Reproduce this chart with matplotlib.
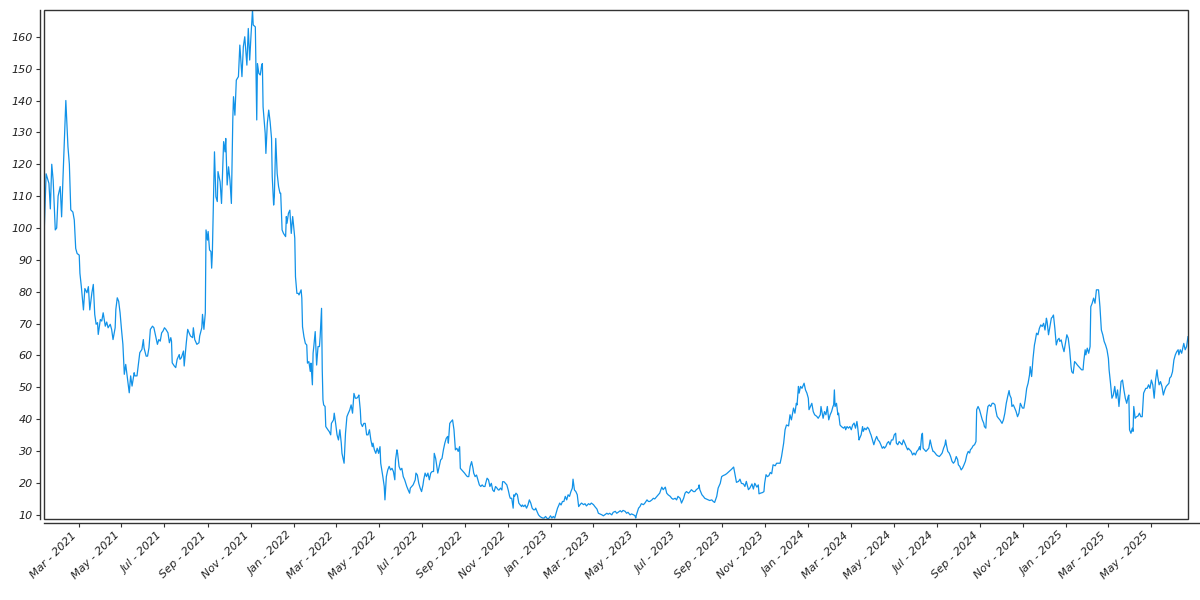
import matplotlib
matplotlib.use("Agg")
import matplotlib.pyplot as plt
import matplotlib.dates as mdates
from matplotlib.patches import Rectangle
from matplotlib.ticker import MultipleLocator
import pandas as pd

start_date = "2021-01-11"

day_offsets = [
    0, 3, 7, 9, 11, 13, 16, 18, 20, 23, 25, 27, 31, 34, 36, 38, 41, 43, 45, 47, 50, 51, 53,
    56, 58, 61, 63, 65, 68, 70, 72, 74, 76, 77, 80, 82, 84, 87, 89, 91, 94, 96, 98, 101, 102, 104, 106, 108,
    110, 112, 114, 116, 118, 121, 123, 125, 128, 129, 132, 134, 136, 139, 141, 142, 145, 147, 149, 151, 154,
    156, 159, 161, 163, 165, 167, 169, 171, 173, 176, 178, 180, 181, 182, 185, 187, 189, 192, 193, 195, 198,
    199, 202, 204, 206, 208, 211, 212, 214, 217, 220, 221, 224, 225, 227, 229,
    230, 232, 233, 235, 237, 238, 239, 242, 244, 246, 247, 250, 252, 255, 257, 258, 260, 262, 264, 266, 268,
    269, 271, 273, 276, 278, 281, 283, 285, 288, 290, 292, 294, 296, 297, 300, 302, 303, 305, 307, 309, 310,
    311, 314, 315, 317, 319, 321, 323, 324, 326, 327, 329, 331, 333, 335, 336, 338, 340, 343, 344, 345, 347,
    349, 351, 353, 354, 356, 357, 359, 361, 362,
    365, 366, 367, 369, 371, 373, 374, 376, 378, 379, 381, 382, 383, 385, 387, 389, 391, 392, 394, 395,
    396, 397, 399, 400, 403, 405, 407, 408, 411, 412, 414, 416, 418, 420, 422, 423, 426, 428, 430, 432,
    434, 436, 438, 440, 442, 444, 446, 447, 449, 450, 452, 454, 456, 458, 460, 462, 464, 466, 467, 469,
    471, 473, 475, 477, 478, 481, 483, 484, 486, 488, 490, 492, 494, 496, 498, 499, 501, 502, 504, 506,
    508, 510, 512, 515, 517, 519, 520, 522, 524, 527, 528, 530, 532, 534, 536, 538, 539, 541, 543, 545,
    547, 549, 551, 553, 554, 556, 557, 559, 561, 563, 565, 567, 569, 571, 573, 574, 576, 578, 580, 582,
    584, 586, 588, 590, 591, 593, 595, 597, 599, 601, 603, 605, 607, 609, 610, 612, 614, 616, 618, 620,
    622, 624, 626, 627, 629, 631, 633, 635, 637, 639, 641, 643, 645, 646, 648, 650, 651, 653, 655, 657,
    659, 661, 662, 664, 666, 667, 668, 670, 672, 674, 676, 678, 679, 681, 683, 685, 687, 689, 691, 693,
    695, 697, 698, 700, 702, 704, 706, 708, 710, 712, 714, 715, 717, 719, 721, 723, 725, 727, 729, 731,
    732, 734, 736, 738, 740, 742, 744, 746, 748, 750, 751, 753, 755, 757, 759,
    761, 763, 766, 768, 770, 773, 775, 777, 780, 782, 785, 787, 789, 792, 794, 796, 799, 801, 803, 806,
    808, 811, 813, 815, 818, 820, 822, 825, 827, 829, 832, 834, 837, 839, 840, 841, 844, 846, 848, 851,
    853, 856, 858, 860, 863, 865, 867, 870, 872, 874, 877, 879, 882, 884, 886, 889, 891, 893, 896, 898,
    900, 903, 905, 908, 910, 912, 915, 917, 919, 922, 924, 926, 929, 930, 931, 934, 936, 938, 941, 943,
    945, 948, 950, 952, 955, 957, 960, 962, 964, 967, 969, 971, 974, 976, 979, 981, 983, 986, 988, 990,
    993, 995, 997, 1000, 1002, 1005, 1007, 1009, 1012, 1014, 1015, 1017, 1020, 1022, 1023, 1025, 1027,
    1029, 1031, 1033, 1035, 1038, 1040, 1042, 1045, 1047, 1050, 1052, 1054, 1057, 1059, 1061, 1064, 1066,
    1068, 1069, 1071, 1072,
    1074, 1076, 1078, 1079, 1081, 1083, 1085, 1086, 1088, 1090, 1092, 1094, 1097, 1099, 1102, 1103, 1105,
    1106, 1108, 1110, 1112, 1114, 1116, 1118, 1120, 1121, 1122, 1123, 1125, 1127, 1128, 1130, 1132, 1135,
    1137, 1138, 1140, 1142, 1144, 1146, 1148, 1150, 1152, 1154, 1155, 1157, 1158, 1160, 1162, 1163, 1165,
    1167, 1169, 1171, 1173, 1174, 1176, 1178, 1180, 1182, 1184, 1186, 1188, 1190, 1192, 1193, 1195, 1197,
    1199, 1201, 1203, 1205, 1207, 1209, 1210, 1212, 1214, 1216, 1218, 1220, 1222, 1224, 1226, 1227, 1229,
    1231, 1233, 1235, 1237, 1239, 1241, 1243, 1244, 1246, 1247, 1248, 1250, 1252, 1254, 1256, 1258, 1260,
    1262, 1263, 1265, 1267, 1269, 1271, 1273, 1275, 1277, 1279, 1280, 1281, 1283, 1285, 1287, 1289, 1291,
    1293, 1295, 1297, 1298, 1300, 1302, 1304, 1306, 1308, 1310, 1312, 1314, 1315, 1317, 1319, 1321, 1323,
    1324, 1326, 1328, 1330, 1332, 1334, 1335, 1337, 1338, 1340, 1342, 1344, 1346, 1348, 1350, 1351, 1353,
    1355, 1357,
    1360, 1362, 1364, 1366, 1368, 1370, 1371, 1373, 1374, 1376, 1378, 1380, 1382, 1384, 1386, 1388, 1389,
    1391, 1393, 1395, 1397, 1399, 1400, 1402, 1404, 1406, 1407, 1409, 1411, 1413, 1415, 1417, 1419, 1421,
    1423, 1424, 1426, 1428, 1430, 1432, 1433, 1435, 1437, 1439, 1441, 1442, 1444, 1446, 1448, 1450, 1452,
    1454, 1456, 1458, 1459, 1461, 1463, 1465, 1467, 1469, 1471, 1473, 1475, 1476, 1478, 1479, 1481, 1483,
    1485, 1486, 1488, 1490, 1492, 1494, 1495, 1497, 1499, 1501, 1503, 1505, 1507, 1509, 1511, 1512, 1514,
    1516, 1518, 1520, 1522, 1524, 1526, 1528, 1529, 1531, 1533, 1535, 1537, 1539, 1540, 1541, 1543, 1545,
    1546, 1547, 1549, 1551, 1553, 1555, 1557, 1559, 1561, 1563, 1564, 1566, 1568, 1570, 1572, 1574, 1576,
    1578, 1580, 1581, 1583, 1585, 1587, 1589, 1591, 1593, 1595, 1597, 1598, 1600, 1602, 1604, 1606, 1608,
    1610, 1611, 1613, 1615, 1617, 1618, 1620, 1622, 1624,
]

values = [
    97.2, 117, 114, 106, 120, 115, 99.4, 100, 110, 113, 103.5, 116, 140, 125.5, 120, 105.7, 105, 102.5, 93.6,
    92, 91.5, 85.8, 81.6,
    74.3, 81, 79.7, 81.6, 74.3, 79.7, 82.3, 72.9, 69.8, 70.3, 66.6, 71.3, 70.8, 73.4, 69.2, 70.5, 68.7, 69.8,
    68.2, 65, 68.7, 74.5, 78.1, 77, 73.4, 68.2, 63.5, 54.1, 57.2, 53.6, 48.3, 53.6, 50.4, 54.6, 53.6, 53.6,
    57.2, 60.9, 61.9, 65, 62.4, 59.8, 59.8, 62.4, 68.2, 69.2, 68.7, 65.6, 63.5, 65, 64.5, 67.1, 67.7, 68.7,
    68.2, 67.1, 64, 65.6, 64.5, 57.7, 56.7, 56.2, 58.8, 60.3, 58.8, 59.3, 61.4, 56.7, 64, 68.2, 67.1, 66.1,
    65.6, 68.7, 65, 63.5, 64, 66.1, 68.7, 72.9, 68.2, 73.4,
    99.4, 96.2, 98.9, 93.1, 92.6, 87.4, 92.1, 123.9, 109.8, 108.3, 117.7, 114.5, 107.7, 127.1, 123.9, 128.1,
    113.5, 119.2, 115, 107.7, 133.9, 141.2, 135.4, 146.4, 147.5, 157.4, 147.5, 156.9, 160, 151.1, 162.6, 152.7,
    161, 168.4, 163.7, 163.1, 133.9, 151.6, 148.5, 148, 151.1, 151.6, 138, 129.7, 123.4, 132.8, 137, 133.3,
    128.1, 116.1, 107.2, 109.8, 128.1, 117.1, 113, 110.9, 110.9, 99.4, 98.3, 97.3, 103.6, 101.5, 104.6, 105.6,
    98.3, 103.6, 101.5, 96.8, 84.7, 79.5, 79.5, 79,
    80.6, 78, 69, 65.9, 63.8, 63.3, 57.6, 58.1, 55, 57.6, 50.8, 60.7, 62.8, 67.5, 57, 62.8, 62.8, 65.9, 74.8,
    55.5, 46.1, 44.5, 44, 37.7, 36.7, 36.1, 35.1, 38.7, 39.8, 41.9, 38.7, 35.1, 33.5, 36.7, 32.5, 29.3, 26.2,
    35.6, 40.8, 41.9, 42.9, 44.5, 41.9, 48.1, 46.6, 46.6, 47.1, 47.6, 42.9, 38.7, 37.7, 38.7, 38.7, 35.1, 35.1,
    36.7, 33.5, 31.4, 32.5, 30.4, 29.3, 30.9, 29.3, 31.4, 26.2, 22, 18.9, 14.7, 22, 24.1, 25.2, 24.1, 24.6,
    23.6, 21, 27.2, 30.4, 29.3, 25.2, 24.1, 24.6, 22, 21, 18.9, 17.8, 16.8, 18.4, 18.9, 19.4, 21, 23.1, 22.5,
    19.9, 18.4, 17.3, 19.4, 21, 23.1, 22, 23.1, 21, 23.1, 23.6, 23.6, 29.3, 27.7, 26.2, 23.1, 25.2, 27.2, 27.7,
    30.4, 32.5, 34, 34.6, 32.5, 38.7, 39.3, 39.8, 36.7, 30.4, 30.9, 29.9, 31.4, 24.6, 24.1, 23.6, 23.1, 22.5,
    22, 22, 25.2, 26.7, 24.6, 23.1, 22, 22.5, 21, 19.4, 18.9, 19.4, 18.9, 18.9, 19.9, 21.5, 21, 18.9, 19.9,
    17.8, 17.3, 18.9, 18.4, 17.8, 17.8, 18.4, 17.8, 20.4, 20.4, 19.9, 19.4, 17.8, 15.8, 15.2, 15.2, 12.1, 16.3,
    15.8, 16.8, 16.3, 13.7, 13.1, 12.6, 13.1, 12.6, 13.1, 12.1, 13.1, 14.7, 13.7, 12.1, 11.6, 11.6, 12.1, 11,
    10, 9.5, 9.2, 9, 9, 9.5, 9, 8.7, 9, 9.7, 9, 9.5, 9, 10.5, 12.1, 13.1, 13.7, 13.1, 14.2, 14.2, 15.8, 14.7,
    16.3, 15.8, 17.3, 18.4, 21.2, 17.8, 17.3, 16.3, 12.6,
    13.2, 13.7, 13.2, 13.5, 12.8, 13.5, 13.2, 13.7, 13.2, 12.6, 11.8, 10.5, 10.3, 10, 9.7, 10, 10.5, 10.2, 10.5,
    10, 10.8, 11.1, 10.5, 10.8, 11.3, 10.9, 11.4, 11.1, 10.5, 10.8, 10, 10.3, 10, 9.7, 9, 10, 12.1, 12.6, 13.5,
    13.2, 13.7, 14.7, 14.2, 14.2, 14.7, 15.2, 15, 15.8, 16.3, 16.8, 18.7, 17.9, 18.7, 16.8, 16.3, 15.8, 15.2,
    14.9, 15.2, 14.7, 15.8, 15.2, 13.7, 15.2, 16.8, 17.3, 16.8, 17.3, 17.9, 17.3, 17.3, 17.9, 18.4, 19.4, 17.9,
    16.3, 15.8, 15.2, 14.9, 14.7, 14.5, 14.7, 14.2, 13.9, 15.8, 18.4, 19.9, 22, 22.3, 22.6, 22.9, 23.3, 23.9,
    24.3, 25, 22.6, 20.2, 20.5, 21.2, 19.9, 19.7, 18.9, 20.5, 17.9, 18.4, 19.7, 18.1, 19.9, 18.7, 19.4, 16.6,
    16.8, 17, 17.3, 19.9, 22.6, 22, 22.3, 23.3, 22.9, 25.7, 25.4, 26.2, 26.2, 26.2, 28.3, 32.5, 36.7, 38.2,
    37.9, 41.4, 39.8, 43.5, 41.9, 45, 44.5, 50.3, 48.2,
    50.3, 49.7, 50.8, 51.3, 49.2, 48.2, 46.6, 43, 44, 45, 42.4, 41.4, 40.9, 40.3, 41.4, 44, 41.4, 40.3, 42.4,
    41.4, 44, 39.8, 41.4, 42.4, 44, 44.5, 49.2, 44, 45, 41.4, 41.9, 38.2, 37.7, 37.2, 37.7, 36.7, 37.7, 37.2,
    37.7, 36.7, 38.2, 38.8, 37.2, 39.3, 37.7, 33.5, 34.1, 35.1, 37.7, 36.2, 37.2, 36.7, 37.5, 36.9, 35.6, 35.1,
    33.5, 32, 33.5, 34.6, 33.5, 33, 32, 30.9, 31.4, 30.9, 31.4, 32.5, 33, 32, 33.5, 33.5, 35.1, 35.6, 32.5, 32,
    33, 32.5, 32, 33.5, 32.5, 31.4, 30.4, 30.9, 30.4, 29.9, 28.8, 29.4, 28.8, 29.9, 30.4, 31.4, 30.4, 35.1,
    35.6, 30.9, 30.4, 29.9, 30.4, 30.9, 33.5, 31.4, 29.9, 29.9, 29.4, 28.8, 28.5, 28.3, 28.8, 29.4, 30.9, 32,
    33.5, 32, 29.9, 29.4, 28.3, 26.8, 26.2, 26.8, 28.3, 27.3, 25.7, 25.2, 24.1, 24.7, 25.7, 26.8, 28.8, 29.9,
    29.4, 30.4, 30.9, 31.7, 32, 33, 43, 44, 43, 41.4, 39.8, 38.8, 37.7, 37.2, 40.9, 44, 44.5, 44, 45, 45, 44.5,
    43, 40.9, 40.3, 39.8,
    38.7, 39.8, 41.9, 45, 47.1, 49, 47.6, 46.6, 44, 44.5, 43.5, 42.4, 40.8, 41.9, 45, 44, 43.5, 43.5, 46.1,
    49.7, 51.3, 53.9, 56.5, 53.4, 59.1, 63.3, 64.4, 67, 66.5, 68.5, 69.6, 69.1, 70.1, 68, 71.7, 70.6, 66.5,
    69.1, 71.7, 72.2, 72.7, 68.5, 63.3, 64.9, 65.4, 64.4, 64.9, 62.8, 61.2, 63.8, 66.5, 65.4, 61.8, 56.5, 54.9,
    54.4, 58.1, 57.6, 57, 56.5, 56, 55.5, 55.5, 58.1, 61.8, 60.2, 62.3, 60.7, 62.8, 75.3, 76.4, 78, 76.4, 80.6,
    80.6, 80.6, 75.3, 68, 66.5, 64.4, 63.3, 61.8, 59.1, 55.5, 51.3, 46.6, 47.6, 50.3, 46.6, 49.2, 44, 49.2,
    51.8, 52.3, 49.2, 46.6, 45, 47.1, 47.6, 36.7, 35.6, 37.2, 36.2, 44, 40.3, 40.8, 41, 41.9, 40.8, 40.8, 48.2,
    49.2, 49.7, 49.7, 50.8, 49.7, 52.3, 50.8, 46.6, 52.3, 55.5, 53.4, 50.8, 51.8, 50.3, 47.6, 49.2, 50.3, 50.8,
    51.3, 52.9, 53.4, 54.9, 58.6, 60.2, 61.2, 61.8, 60.2, 61.8, 60.7, 62.8, 63.8, 61.8, 62.8, 65.9,
]

tick_months = [1, 3, 5, 7, 9, 11]
date_format = "%b - %Y"

plt.rcParams["font.family"] = ["DejaVu Sans"]
plt.rcParams["font.style"] = "italic"

dates = pd.Timestamp(start_date) + pd.to_timedelta(day_offsets, unit="D")

fig = plt.figure(figsize=(12, 6), dpi=100)
ax = fig.add_axes([44 / 1200, 81 / 600, 1144 / 1200, 509 / 600])
ax.plot(dates, values, color="#1192e8", lw=0.9)
ax.margins(x=0, y=0)

ax.xaxis.set_major_locator(mdates.MonthLocator(bymonth=tick_months))
ax.xaxis.set_major_formatter(mdates.DateFormatter(date_format))
ax.yaxis.set_major_locator(MultipleLocator(10))

edge = "#333333"
for s in ["top", "right"]:
    ax.spines[s].set_visible(False)
for s in ["left", "bottom"]:
    ax.spines[s].set_position(("outward", 3))
    ax.spines[s].set_color(edge)
    ax.spines[s].set_linewidth(1)

x0, x1 = ax.get_xlim()
ax.spines["bottom"].set_bounds(x0, x1 + (x1 - x0) * 12 / 1144)

ax.add_patch(Rectangle((0, 0), 1, 1, transform=ax.transAxes, fill=False,
                       ec=edge, lw=1, clip_on=False, zorder=3))

ax.tick_params(axis="both", length=3, width=0.8, color=edge,
               labelsize=8, labelcolor="#222222", pad=2)
for lbl in ax.get_xticklabels():
    lbl.set_rotation(45)
    lbl.set_ha("right")

fig.savefig("out.png", dpi=100)
